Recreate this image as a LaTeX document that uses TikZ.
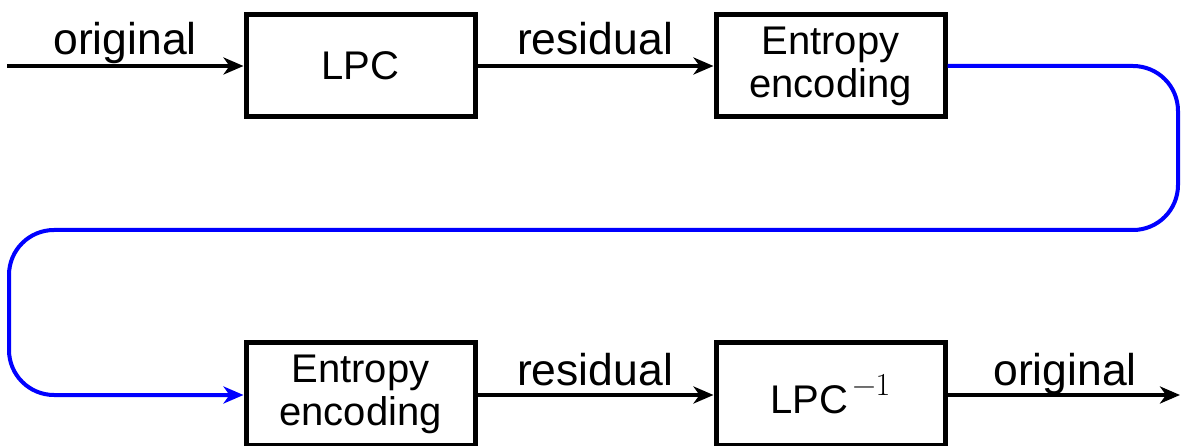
\documentclass[tikz,border=0pt]{standalone}
\usepackage{fontspec}
\setmainfont{Liberation Sans}
\newfontfamily\lmrfont{Latin Modern Roman}
\usetikzlibrary{arrows.meta}
\begin{document}
\begin{tikzpicture}[x=1pt,y=-1pt,
  blk/.style={draw=black,line width=5pt,minimum width=229pt,minimum height=102pt,inner sep=0pt,align=center,font=\fontsize{40}{43}\selectfont},
  lbl/.style={anchor=base,inner sep=0pt,font=\fontsize{44.5}{48}\selectfont},
  conn/.style={line width=4pt,-{Stealth[length=20pt,width=17pt,inset=6pt]}},
  bconn/.style={conn,draw=blue,rounded corners=45pt}]
\useasboundingbox (0,0) rectangle (1181,446);
\node[blk] (lpc) at (360.5,66) {LPC};
\node[blk] (ent1) at (830.5,66) {Entropy\\encoding};
\node[blk] (ent2) at (360.5,394) {Entropy\\encoding};
\node[blk] (ilpc) at (830.5,394) {LPC\kern4pt\raisebox{18pt}{\lmrfont\fontsize{32}{32}\selectfont −1}};
\coordinate (in) at (7,66);
\coordinate (out) at (1180,395);
\coordinate (r1) at (1178,66);
\coordinate (r2) at (1178,230);
\coordinate (l1) at (9,230);
\coordinate (l2) at (9,395);
\draw[conn] (in) -- (lpc.west);
\draw[conn] (lpc.east) -- (ent1.west);
\draw[bconn] (ent1.east) -- (r1) -- (r2) -- (l1) -- (l2) -- (ent2.west |- l2);
\draw[conn] (ent2.east |- l2) -- (ilpc.west |- l2);
\draw[conn] (ilpc.east |- l2) -- (out);
\node[lbl] (t1) at (125,55) {original};
\node[lbl] (t2) at (595,55) {residual};
\node[lbl] (t3) at (595,385) {residual};
\node[lbl] (t4) at (1065,385) {original};
\end{tikzpicture}
\end{document}
